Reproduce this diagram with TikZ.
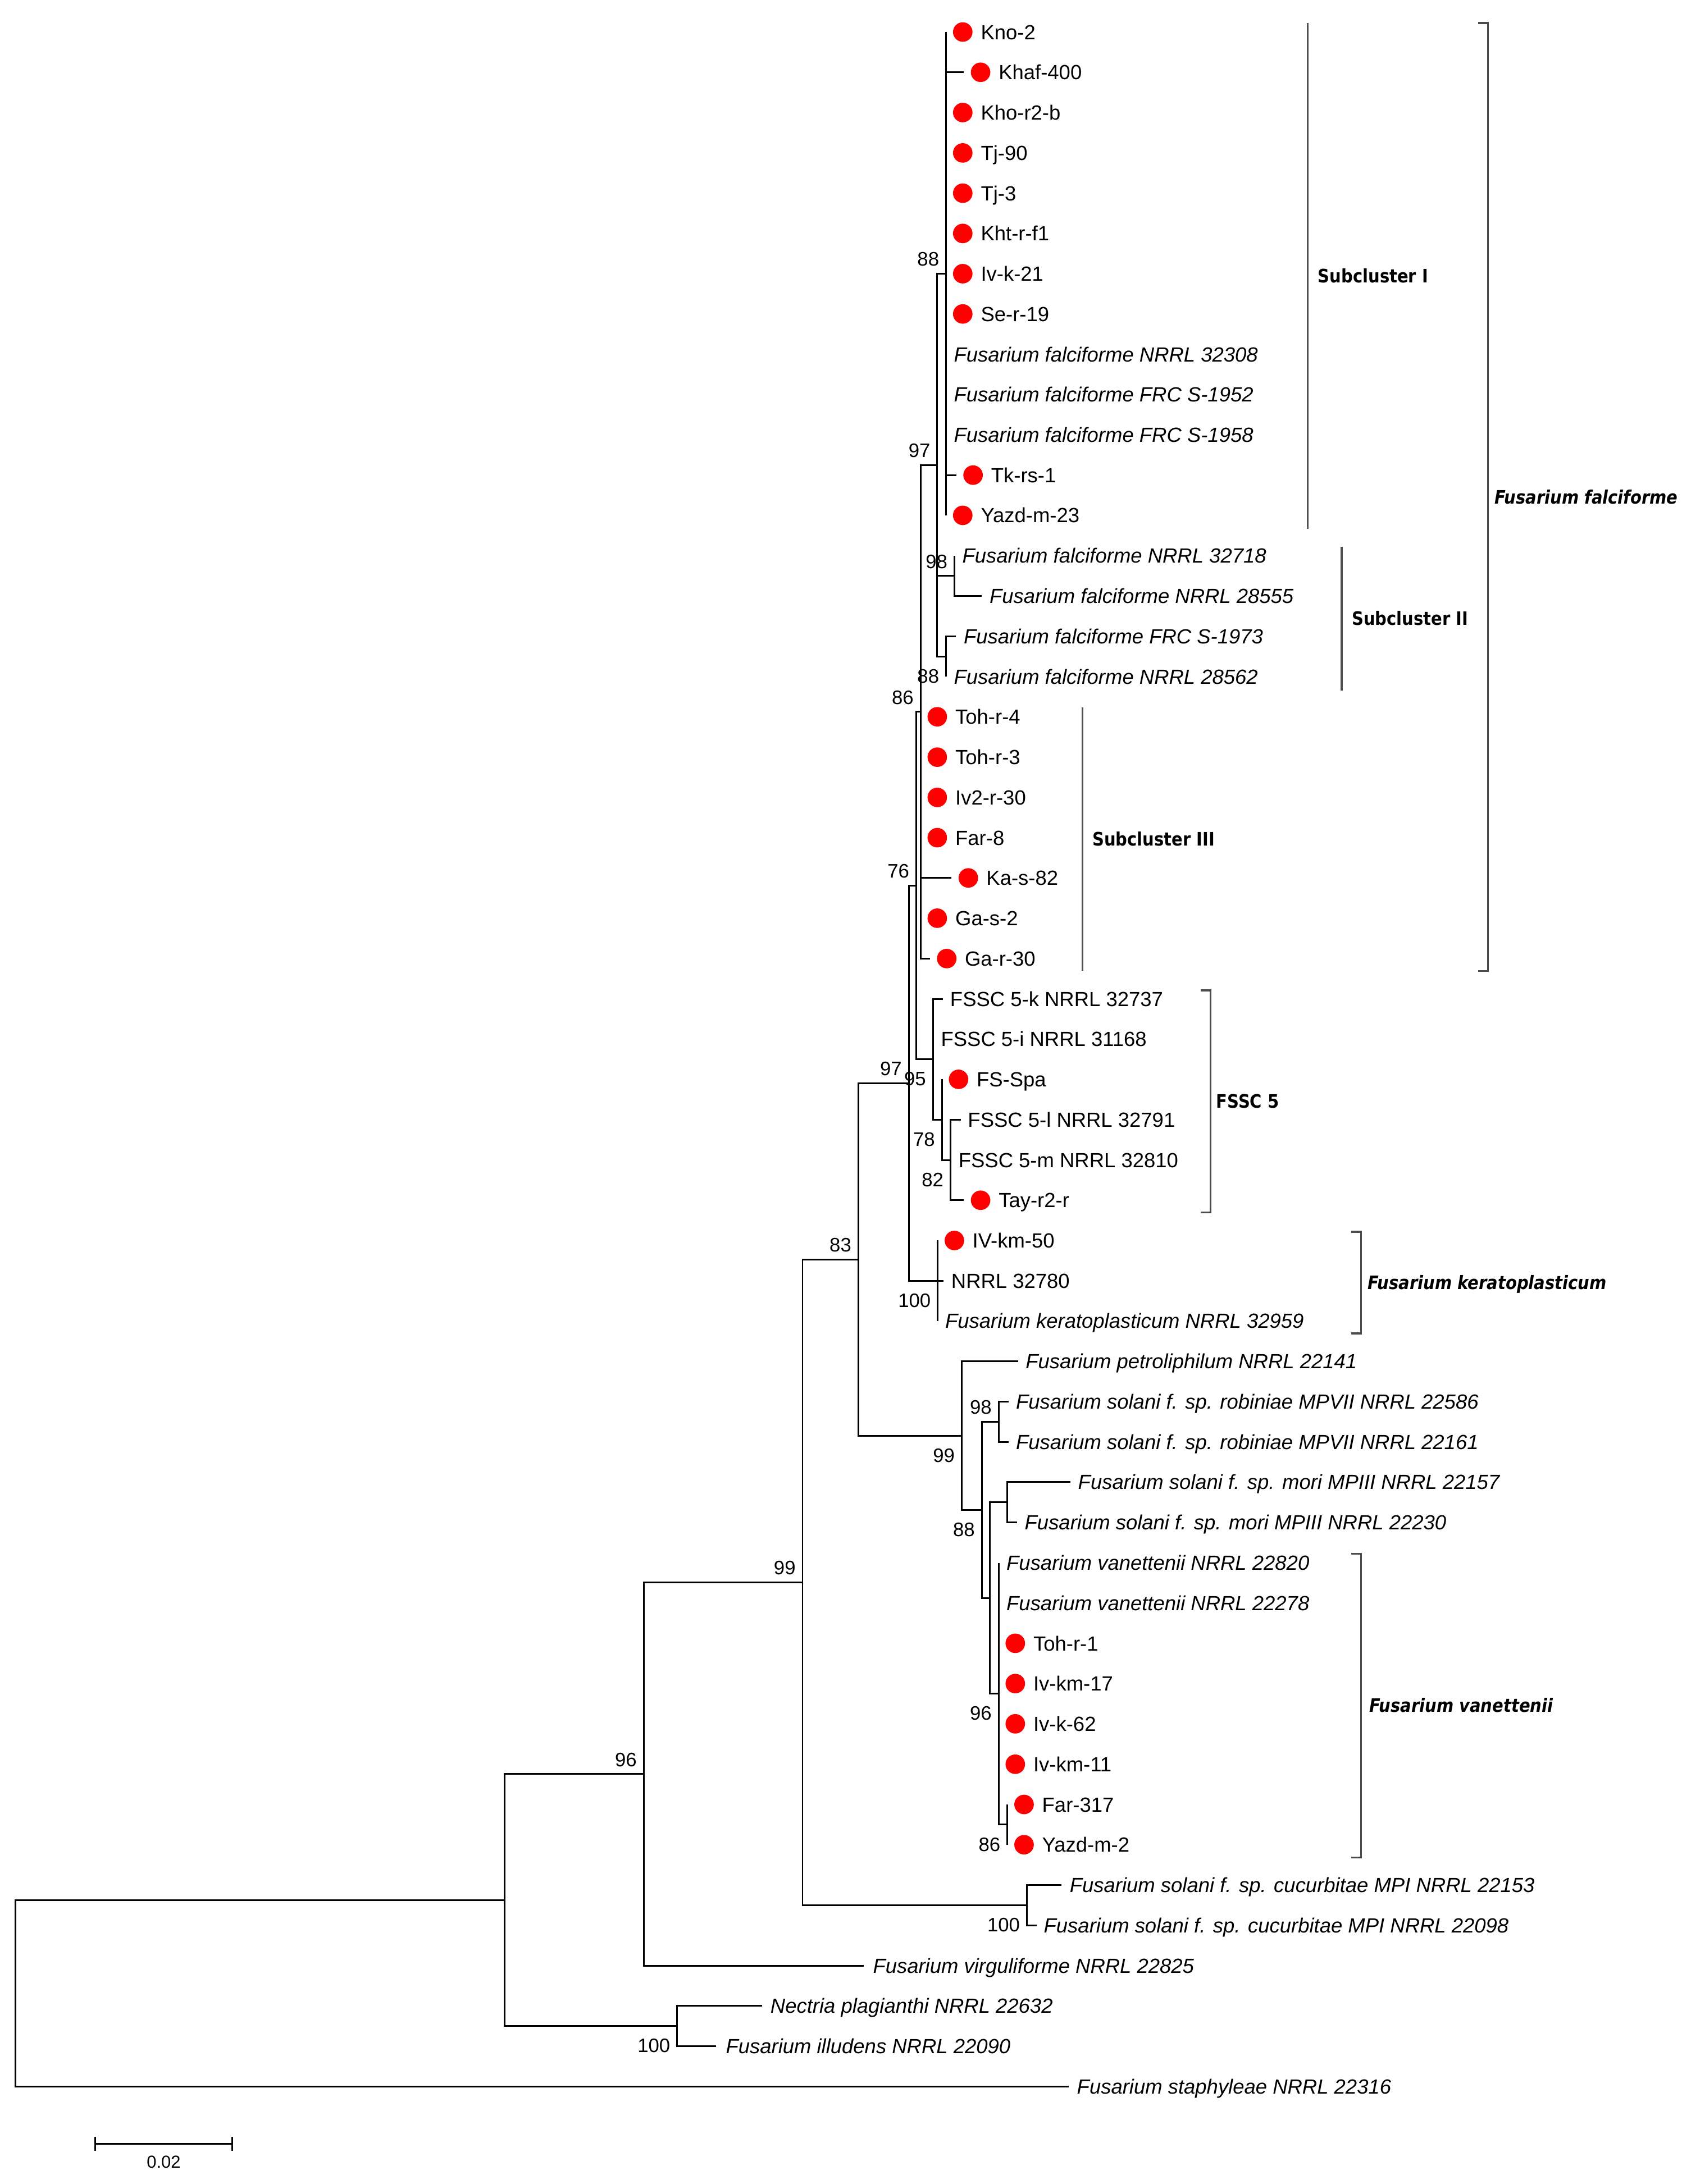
\documentclass[tikz,border=0pt]{standalone}
\usepackage{fontspec}
\setmainfont{Liberation Sans}
\newfontfamily\cladefont[FakeStretch=0.88]{DejaVu Sans}
\usepackage{tikz}
\usetikzlibrary{positioning}
\tikzset{
    branch/.style={line width=0.6pt, black},
    clade/.style={line width=0.7pt, black!70},
    isolate/.style={circle, fill=red, inner sep=0pt, outer sep=0pt, minimum size=7pt},
    taxon/.style={inner sep=0pt, outer sep=0pt, anchor=west, font=\fontsize{7.35}{9}\selectfont\itshape, text height=5.26pt, text depth=0pt},
    strain/.style={taxon, font=\fontsize{7.35}{9}\selectfont},
    boot/.style={inner sep=0pt, outer sep=0pt, font=\fontsize{7}{9}\selectfont, text height=5pt, text depth=0pt},
    bup/.style={boot, yshift=5.25pt},
    bdown/.style={boot, yshift=-7pt},
    cladename/.style={inner sep=0pt, outer sep=0pt, text=black, font=\cladefont\bfseries\fontsize{6.65}{8}\selectfont, text height=4.85pt, text depth=0pt},
    cladesp/.style={cladename, font=\cladefont\bfseries\itshape\fontsize{6.65}{8}\selectfont}
}

\begin{document}
\begin{tikzpicture}[x=0.5pt, y=-0.5pt]
\useasboundingbox (0,0) rectangle (1207,1568);

\coordinate (R) at (11,1431);
\coordinate (A) at (362,1364.1);
\coordinate (B) at (462,1273.6);
\coordinate (N) at (486,1454.6);
\coordinate (C) at (576,1136);
\coordinate (CU) at (737,1367.8);
\coordinate (D) at (616,904.2);
\coordinate (S) at (690.2,1030.7);
\coordinate (E) at (652.2,777.6);
\coordinate (Q) at (673,919.5);
\coordinate (F) at (657.6,635.7);
\coordinate (G) at (660.7,511);
\coordinate (L) at (669.6,760.5);
\coordinate (M) at (676,803.8);
\coordinate (P) at (682.2,832.8);
\coordinate (H) at (672.7,333.9);
\coordinate (I) at (679,196.5);
\coordinate (J) at (685,413.5);
\coordinate (K) at (679,471.3);
\coordinate (T) at (704.6,1084);
\coordinate (U) at (716.7,1020.8);
\coordinate (V) at (710.4,1147.3);
\coordinate (W) at (723,1078.6);
\coordinate (X) at (716.7,1216);
\coordinate (Y) at (723,1310);

\coordinate (Kno2) at (679,23);
\coordinate (Khaf400) at (691.8,51.9);
\coordinate (Khor2b) at (679,80.8);
\coordinate (Tj90) at (679,109.8);
\coordinate (Tj3) at (679,138.7);
\coordinate (Khtrf1) at (679,167.6);
\coordinate (Ivk21) at (679,196.5);
\coordinate (Ser19) at (679,225.4);
\coordinate (Ff32308) at (679,254.4);
\coordinate (FfS1952) at (679,283.3);
\coordinate (FfS1958) at (679,312.2);
\coordinate (Tkrs1) at (686.4,341.1);
\coordinate (Yazdm23) at (679,370);
\coordinate (Ff32718) at (685,399);
\coordinate (Ff28555) at (704.6,427.9);
\coordinate (FfS1973) at (686,456.8);
\coordinate (Ff28562) at (679,485.7);
\coordinate (Tohr4) at (660.7,514.6);
\coordinate (Tohr3) at (660.7,543.6);
\coordinate (Iv2r30) at (660.7,572.5);
\coordinate (Far8) at (660.7,601.4);
\coordinate (Kas82) at (683,630.3);
\coordinate (Gas2) at (660.7,659.2);
\coordinate (Gar30) at (667.5,688.2);
\coordinate (F5k) at (676.8,717.1);
\coordinate (F5i) at (669.6,746);
\coordinate (FSSpa) at (676,774.9);
\coordinate (F5l) at (689.5,803.8);
\coordinate (F5m) at (682.2,832.8);
\coordinate (Tayr2r) at (691.8,861.7);
\coordinate (IVkm50) at (673,890.6);
\coordinate (N32780) at (677,919.5);
\coordinate (Fk32959) at (673,948.4);
\coordinate (Fp22141) at (730.8,977.4);
\coordinate (Fr22586) at (723.8,1006.3);
\coordinate (Fr22161) at (723.8,1035.2);
\coordinate (Fm22157) at (768.4,1064.1);
\coordinate (Fm22230) at (730.1,1093);
\coordinate (Fv22820) at (716.7,1122);
\coordinate (Fv22278) at (716.7,1150.9);
\coordinate (Tohr1) at (716.7,1179.8);
\coordinate (Ivkm17) at (716.7,1208.7);
\coordinate (Ivk62) at (716.7,1237.6);
\coordinate (Ivkm11) at (716.7,1266.6);
\coordinate (Far317) at (723,1295.5);
\coordinate (Yazdm2) at (723,1324.4);
\coordinate (Fc22153) at (762,1353.3);
\coordinate (Fc22098) at (744,1382.2);
\coordinate (Fvi22825) at (620,1411.2);
\coordinate (Np22632) at (547,1440.1);
\coordinate (Fi22090) at (514,1469);
\coordinate (Fs22316) at (767,1497.9);

\draw [branch] (R) |- (A) (R) |- (Fs22316);
\draw [branch] (A) |- (B) (A) |- (N);
\draw [branch] (N) |- (Np22632) (N) |- (Fi22090);
\draw [branch] (B) |- (C) (B) |- (Fvi22825);
\draw [branch] (C) |- (D) (C) |- (CU);
\draw [branch] (CU) |- (Fc22153) (CU) |- (Fc22098);
\draw [branch] (D) |- (E) (D) |- (S);
\draw [branch] (E) |- (F) (E) |- (Q);
\draw [branch] (Q) |- (IVkm50) (Q) |- (N32780) (Q) |- (Fk32959);
\draw [branch] (F) |- (G) (F) |- (L);
\draw [branch] (G) |- (H) (G) |- (Tohr4) (G) |- (Tohr3) (G) |- (Iv2r30) (G) |- (Far8) (G) |- (Kas82) (G) |- (Gas2) (G) |- (Gar30);
\draw [branch] (H) |- (I) (H) |- (J) (H) |- (K);
\draw [branch] (I) |- (Kno2) (I) |- (Khaf400) (I) |- (Khor2b) (I) |- (Tj90) (I) |- (Tj3) (I) |- (Khtrf1) (I) |- (Ivk21);
\draw [branch] (I) |- (Ser19) (I) |- (Ff32308) (I) |- (FfS1952) (I) |- (FfS1958) (I) |- (Tkrs1) (I) |- (Yazdm23);
\draw [branch] (J) |- (Ff32718) (J) |- (Ff28555);
\draw [branch] (K) |- (FfS1973) (K) |- (Ff28562);
\draw [branch] (L) |- (F5k) (L) |- (F5i) (L) |- (M);
\draw [branch] (M) |- (FSSpa) (M) |- (P);
\draw [branch] (P) |- (F5l) (P) |- (F5m) (P) |- (Tayr2r);
\draw [branch] (S) |- (Fp22141) (S) |- (T);
\draw [branch] (T) |- (U) (T) |- (V);
\draw [branch] (U) |- (Fr22586) (U) |- (Fr22161);
\draw [branch] (V) |- (W) (V) |- (X);
\draw [branch] (W) |- (Fm22157) (W) |- (Fm22230);
\draw [branch] (X) |- (Fv22820) (X) |- (Fv22278) (X) |- (Tohr1) (X) |- (Ivkm17) (X) |- (Ivk62) (X) |- (Ivkm11) (X) |- (Y);
\draw [branch] (Y) |- (Far317) (Y) |- (Yazdm2);

\node [isolate, right=2.5pt of Kno2] (dKno2) {};
\node [strain, right=3pt of dKno2] (lKno2) {Kno-2};
\node [isolate, right=2.5pt of Khaf400] (dKhaf400) {};
\node [strain, right=3pt of dKhaf400] (lKhaf400) {Khaf-400};
\node [isolate, right=2.5pt of Khor2b] (dKhor2b) {};
\node [strain, right=3pt of dKhor2b] (lKhor2b) {Kho-r2-b};
\node [isolate, right=2.5pt of Tj90] (dTj90) {};
\node [strain, right=3pt of dTj90] (lTj90) {Tj-90};
\node [isolate, right=2.5pt of Tj3] (dTj3) {};
\node [strain, right=3pt of dTj3] (lTj3) {Tj-3};
\node [isolate, right=2.5pt of Khtrf1] (dKhtrf1) {};
\node [strain, right=3pt of dKhtrf1] (lKhtrf1) {Kht-r-f1};
\node [isolate, right=2.5pt of Ivk21] (dIvk21) {};
\node [strain, right=3pt of dIvk21] (lIvk21) {Iv-k-21};
\node [isolate, right=2.5pt of Ser19] (dSer19) {};
\node [strain, right=3pt of dSer19] (lSer19) {Se-r-19};
\node [taxon, right=2.85pt of Ff32308] (lFf32308) {Fusarium falciforme NRRL 32308};
\node [taxon, right=2.85pt of FfS1952] (lFfS1952) {Fusarium falciforme FRC S-1952};
\node [taxon, right=2.85pt of FfS1958] (lFfS1958) {Fusarium falciforme FRC S-1958};
\node [isolate, right=2.5pt of Tkrs1] (dTkrs1) {};
\node [strain, right=3pt of dTkrs1] (lTkrs1) {Tk-rs-1};
\node [isolate, right=2.5pt of Yazdm23] (dYazdm23) {};
\node [strain, right=3pt of dYazdm23] (lYazdm23) {Yazd-m-23};
\node [taxon, right=2.85pt of Ff32718] (lFf32718) {Fusarium falciforme NRRL 32718};
\node [taxon, right=2.85pt of Ff28555] (lFf28555) {Fusarium falciforme NRRL 28555};
\node [taxon, right=2.85pt of FfS1973] (lFfS1973) {Fusarium falciforme FRC S-1973};
\node [taxon, right=2.85pt of Ff28562] (lFf28562) {Fusarium falciforme NRRL 28562};
\node [isolate, right=2.5pt of Tohr4] (dTohr4) {};
\node [strain, right=3pt of dTohr4] (lTohr4) {Toh-r-4};
\node [isolate, right=2.5pt of Tohr3] (dTohr3) {};
\node [strain, right=3pt of dTohr3] (lTohr3) {Toh-r-3};
\node [isolate, right=2.5pt of Iv2r30] (dIv2r30) {};
\node [strain, right=3pt of dIv2r30] (lIv2r30) {Iv2-r-30};
\node [isolate, right=2.5pt of Far8] (dFar8) {};
\node [strain, right=3pt of dFar8] (lFar8) {Far-8};
\node [isolate, right=2.5pt of Kas82] (dKas82) {};
\node [strain, right=3pt of dKas82] (lKas82) {Ka-s-82};
\node [isolate, right=2.5pt of Gas2] (dGas2) {};
\node [strain, right=3pt of dGas2] (lGas2) {Ga-s-2};
\node [isolate, right=2.5pt of Gar30] (dGar30) {};
\node [strain, right=3pt of dGar30] (lGar30) {Ga-r-30};
\node [strain, right=2.6pt of F5k] (lF5k) {FSSC 5-k NRRL 32737};
\node [strain, right=2.9pt of F5i] (lF5i) {FSSC 5-i NRRL 31168};
\node [isolate, right=2.5pt of FSSpa] (dFSSpa) {};
\node [strain, right=3pt of dFSSpa] (lFSSpa) {FS-Spa};
\node [strain, right=2.6pt of F5l] (lF5l) {FSSC 5-l NRRL 32791};
\node [strain, right=2.9pt of F5m] (lF5m) {FSSC 5-m NRRL 32810};
\node [isolate, right=2.5pt of Tayr2r] (dTayr2r) {};
\node [strain, right=3pt of dTayr2r] (lTayr2r) {Tay-r2-r};
\node [isolate, right=2.5pt of IVkm50] (dIVkm50) {};
\node [strain, right=3pt of dIVkm50] (lIVkm50) {IV-km-50};
\node [strain, right=2.9pt of N32780] (lN32780) {NRRL 32780};
\node [taxon, right=2.7pt of Fk32959] (lFk32959) {Fusarium keratoplasticum NRRL 32959};
\node [taxon, right=2.7pt of Fp22141] (lFp22141) {Fusarium petroliphilum NRRL 22141};
\node [taxon, right=2.7pt of Fr22586] (lFr22586) {Fusarium solani f. sp. robiniae MPVII NRRL 22586};
\node [taxon, right=2.7pt of Fr22161] (lFr22161) {Fusarium solani f. sp. robiniae MPVII NRRL 22161};
\node [taxon, right=2.7pt of Fm22157] (lFm22157) {Fusarium solani f. sp. mori MPIII NRRL 22157};
\node [taxon, right=2.7pt of Fm22230] (lFm22230) {Fusarium solani f. sp. mori MPIII NRRL 22230};
\node [taxon, right=2.85pt of Fv22820] (lFv22820) {Fusarium vanettenii NRRL 22820};
\node [taxon, right=2.85pt of Fv22278] (lFv22278) {Fusarium vanettenii NRRL 22278};
\node [isolate, right=2.5pt of Tohr1] (dTohr1) {};
\node [strain, right=3pt of dTohr1] (lTohr1) {Toh-r-1};
\node [isolate, right=2.5pt of Ivkm17] (dIvkm17) {};
\node [strain, right=3pt of dIvkm17] (lIvkm17) {Iv-km-17};
\node [isolate, right=2.5pt of Ivk62] (dIvk62) {};
\node [strain, right=3pt of dIvk62] (lIvk62) {Iv-k-62};
\node [isolate, right=2.5pt of Ivkm11] (dIvkm11) {};
\node [strain, right=3pt of dIvkm11] (lIvkm11) {Iv-km-11};
\node [isolate, right=2.5pt of Far317] (dFar317) {};
\node [strain, right=3pt of dFar317] (lFar317) {Far-317};
\node [isolate, right=2.5pt of Yazdm2] (dYazdm2) {};
\node [strain, right=3pt of dYazdm2] (lYazdm2) {Yazd-m-2};
\node [taxon, right=2.9pt of Fc22153] (lFc22153) {Fusarium solani f. sp. cucurbitae MPI NRRL 22153};
\node [taxon, right=2.6pt of Fc22098] (lFc22098) {Fusarium solani f. sp. cucurbitae MPI NRRL 22098};
\node [taxon, right=3.3pt of Fvi22825] (lFvi22825) {Fusarium virguliforme NRRL 22825};
\node [taxon, right=3pt of Np22632] (lNp22632) {Nectria plagianthi NRRL 22632};
\node [taxon, right=3.5pt of Fi22090] (lFi22090) {Fusarium illudens NRRL 22090};
\node [taxon, right=3pt of Fs22316] (lFs22316) {Fusarium staphyleae NRRL 22316};

\node [bup, left=2.5pt of B] (bB) {96};
\node [bup, left=2.5pt of C] (bC) {99};
\node [bdown, left=2.5pt of N] (bN) {100};
\node [bup, left=2.5pt of D] (bD) {83};
\node [bdown, left=2.5pt of S] (bS) {99};
\node [bdown, left=2.5pt of CU] (bCU) {100};
\node [bup, left=2.5pt of E] (bE) {97};
\node [bdown, left=2.5pt of Q] (bQ) {100};
\node [bup, left=2.5pt of F] (bF) {76};
\node [bdown, left=2.5pt of L] (bL) {95};
\node [bup, left=2.5pt of G] (bG) {86};
\node [bup, left=2.5pt of H] (bH) {97};
\node [bup, left=2.5pt of I] (bI) {88};
\node [bup, left=2.5pt of J] (bJ) {98};
\node [bdown, left=2.5pt of K] (bK) {88};
\node [bdown, left=2.5pt of M] (bM) {78};
\node [bdown, left=2.5pt of P] (bP) {82};
\node [bdown, left=2.5pt of T] (bT) {88};
\node [bup, left=2.5pt of U] (bU) {98};
\node [bdown, left=2.5pt of X] (bX) {96};
\node [bdown, left=2.5pt of Y] (bY) {86};

\coordinate (sc1a) at (938.5,16.5);
\coordinate (sc1b) at (938.5,379.6);
\coordinate (sc2a) at (962.9,392.4);
\coordinate (sc2b) at (962.9,495.6);
\coordinate (sc3a) at (776.9,508);
\coordinate (sc3b) at (776.9,697);
\coordinate (ffa) at (1068,16.5);
\coordinate (ffb) at (1068,697.2);
\coordinate (f5a) at (868.9,711);
\coordinate (f5b) at (868.9,870.4);
\coordinate (fka) at (976.9,884.3);
\coordinate (fkb) at (976.9,957.4);
\coordinate (fva) at (976.9,1115.5);
\coordinate (fvb) at (976.9,1333.5);

\draw [clade] (sc1a) -- (sc1b) node [cladename, midway, right=3.75pt] (sc1) {Subcluster I};
\draw [clade] (sc2a) -- (sc2b) node [cladename, midway, right=3.7pt] (sc2) {Subcluster II};
\draw [clade] (sc3a) -- (sc3b) node [cladename, midway, right=3.6pt] (sc3) {Subcluster III};
\draw [clade] ([xshift=-3.6pt]ffa) -- (ffa) -- (ffb) node [cladesp, midway, right=2.4pt] (ffname) {Fusarium falciforme} -- ([xshift=-3.6pt]ffb);
\draw [clade] ([xshift=-3.6pt]f5a) -- (f5a) -- (f5b) node [cladename, midway, right=2pt] (f5name) {FSSC 5} -- ([xshift=-3.6pt]f5b);
\draw [clade] ([xshift=-3.6pt]fka) -- (fka) -- (fkb) node [cladesp, midway, right=2.4pt] (fkname) {Fusarium keratoplasticum} -- ([xshift=-3.6pt]fkb);
\draw [clade] ([xshift=-3.6pt]fva) -- (fva) -- (fvb) node [cladesp, midway, right=3pt] (fvname) {Fusarium vanettenii} -- ([xshift=-3.6pt]fvb);

\coordinate (bar0) at (68.4,1539);
\coordinate (bar1) at (166.6,1539);
\draw [branch] (bar0) -- (bar1) node [boot, midway, below=4.3pt, font=\fontsize{6.25}{8}\selectfont, text height=4.5pt] (barlab) {0.02};
\draw [branch] ([yshift=2.5pt]bar0) -- ([yshift=-2.5pt]bar0);
\draw [branch] ([yshift=2.5pt]bar1) -- ([yshift=-2.5pt]bar1);
\end{tikzpicture}
\end{document}
